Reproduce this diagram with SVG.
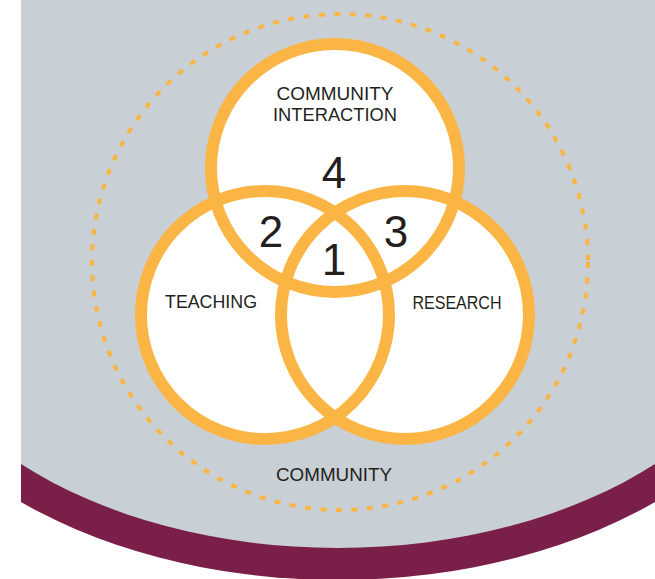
<svg xmlns="http://www.w3.org/2000/svg" width="655" height="579" viewBox="0 0 655 579">
<defs>
<clipPath id="panel"><rect x="21" y="0" width="634" height="579"/></clipPath>
<style>
.bg{fill:#c8d0d5}
.band{fill:#7a1f4a}
.fillc{fill:#ffffff}
.ring{fill:none;stroke:#fbb545;stroke-width:12}
.dots{fill:none;stroke:#fbb545;stroke-width:4;stroke-dasharray:6 9.5}
.lbl{font-family:"Liberation Sans",Arial,sans-serif;font-size:18px;fill:#231f20;text-anchor:middle}
.num{font-family:"Liberation Sans",Arial,sans-serif;font-size:44px;fill:#231f20;text-anchor:middle}
</style>
</defs>
<rect width="655" height="579" fill="#ffffff"/>
<g id="background" clip-path="url(#panel)">
<ellipse class="band" cx="338" cy="282" rx="470" ry="298"/>
<rect class="bg" x="0" y="0" width="655" height="260"/>
<ellipse class="bg" cx="338" cy="259" rx="450" ry="289"/>
</g>
<g id="connectors"></g>
<g id="community">
<circle class="dots" cx="340" cy="262" r="248"/>
<text class="lbl" x="334" y="481" textLength="116" lengthAdjust="spacingAndGlyphs">COMMUNITY</text>
</g>
<g id="fills">
<circle class="fillc" cx="335" cy="168" r="124"/>
<circle class="fillc" cx="265" cy="315" r="124"/>
<circle class="fillc" cx="405" cy="315" r="124"/>
</g>
<g id="community-interaction">
<circle class="ring" cx="335" cy="168" r="124"/>
<text class="lbl" x="335" y="100" textLength="117" lengthAdjust="spacingAndGlyphs">COMMUNITY</text>
<text class="lbl" x="335" y="121" textLength="124" lengthAdjust="spacingAndGlyphs">INTERACTION</text>
</g>
<g id="teaching">
<circle class="ring" cx="265" cy="315" r="124"/>
<text class="lbl" x="211" y="308" textLength="92" lengthAdjust="spacingAndGlyphs">TEACHING</text>
</g>
<g id="research">
<circle class="ring" cx="405" cy="315" r="124"/>
<text class="lbl" x="457" y="309" textLength="89" lengthAdjust="spacingAndGlyphs">RESEARCH</text>
</g>
<g id="region-4"><text class="num" x="334" y="188">4</text></g>
<g id="region-2"><text class="num" x="271" y="247">2</text></g>
<g id="region-3"><text class="num" x="396" y="247">3</text></g>
<g id="region-1"><text class="num" x="334" y="275">1</text></g>
</svg>
